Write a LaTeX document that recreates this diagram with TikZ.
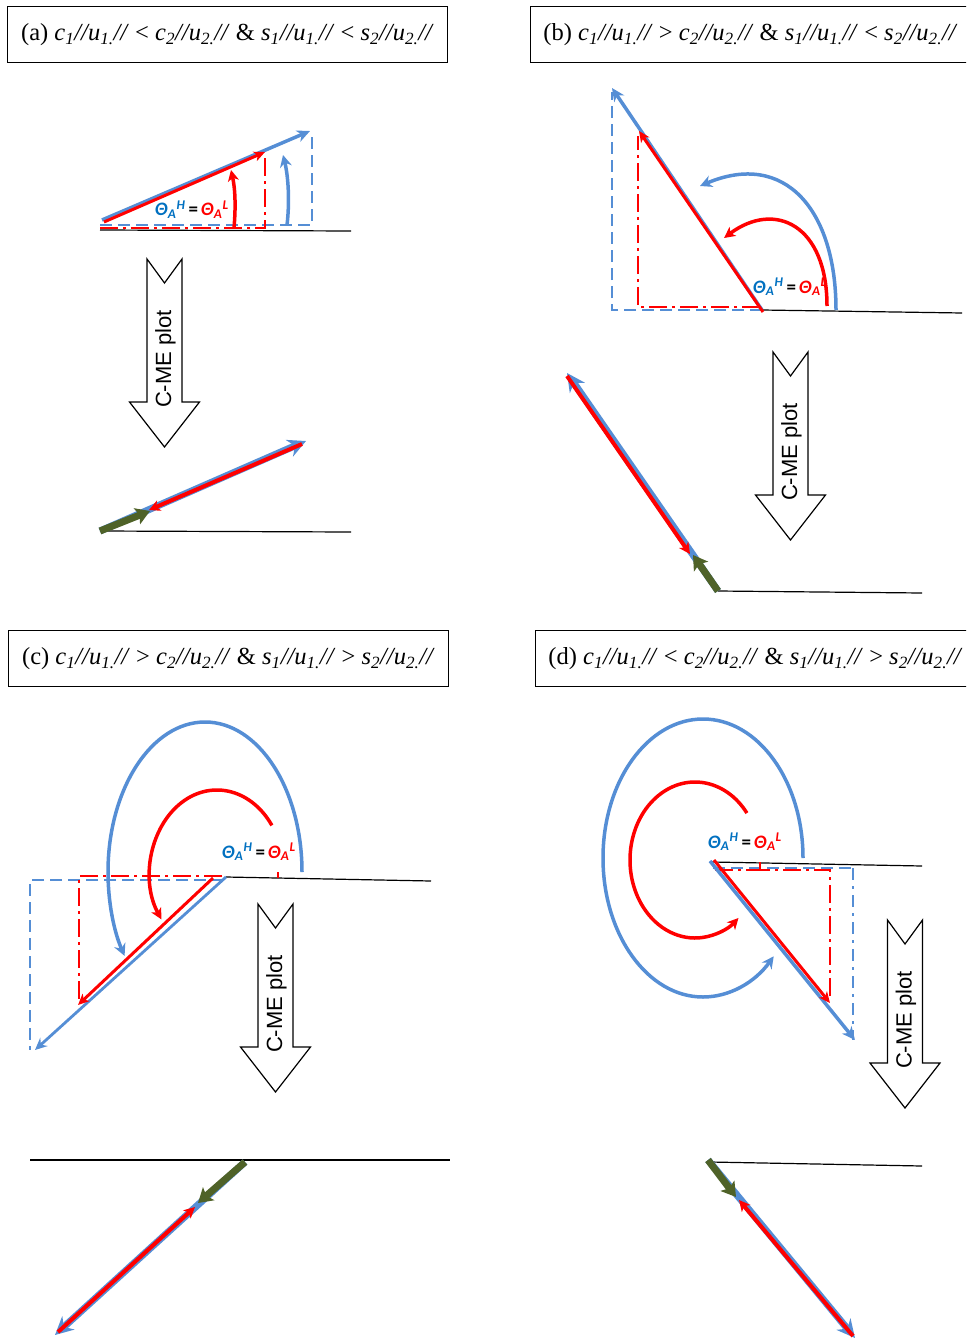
\documentclass[tikz,border=0pt]{standalone}
\usepackage{fontspec}
\setmainfont{Liberation Serif}
\newfontfamily\thetafont{Carlito}
\newfontfamily\cmefont{Liberation Sans}
\usetikzlibrary{arrows.meta}
\definecolor{cblue}{RGB}{85,142,213}
\definecolor{tblue}{RGB}{0,112,192}
\definecolor{cred}{RGB}{255,0,0}
\definecolor{cgreen}{RGB}{79,98,40}
\newcommand\sbx[1]{\textsubscript{#1}}
\newcommand\ttl[2]{\textit{c\sbx{1}//u\sbx{1.}//} #1 \textit{c\sbx{2}//u\sbx{2.}//} \& \textit{s\sbx{1}//u\sbx{1.}//} #2 \textit{s\sbx{2}//u\sbx{2.}//}}
\newcommand\thlab{{\itshape\color{tblue}Θ\sbx{A}\textsuperscript{H}}\,=\,{\itshape\color{cred}Θ\sbx{A}\textsuperscript{L}}}
\newcommand\cmearrow[3]{%
  \draw[blockarrow] (#2-17.5,#3) -- (#2,#3+24) -- (#2+17.5,#3) -- (#2+17.5,#3+143) -- (#2+35,#3+143) -- (#2,#3+188) -- (#2-35,#3+143) -- (#2-17.5,#3+143) -- cycle;
  \node[cmetext] (#1) at (#2+1,#3+100) {C-ME plot};}
\begin{document}
\begin{tikzpicture}[x=1pt,y=-1pt,
  groundline/.style={draw=black, line width=1.2pt},
  bluevec/.style={draw=cblue, line width=3.5pt, -{Stealth[length=13pt,width=12pt,inset=4pt]}},
  bluethin/.style={draw=cblue, line width=2.8pt, -{Stealth[length=12pt,width=11pt,inset=4pt]}},
  redvec/.style={draw=cred, line width=3pt, -{Stealth[length=11pt,width=10pt,inset=3pt]}},
  bluedash/.style={draw=cblue, line width=2.8pt, dash pattern=on 12pt off 6pt},
  reddashdot/.style={draw=cred, line width=2.8pt, dash pattern=on 18pt off 5pt on 3pt off 5pt},
  bluedashdot/.style={draw=cblue, line width=2.8pt, dash pattern=on 12pt off 6pt on 3pt off 6pt},
  bluearc/.style={draw=cblue, line width=3.5pt, -{Stealth[length=12pt,width=12pt,inset=4pt]}},
  redarc/.style={draw=cred, line width=3.5pt, -{Stealth[length=11pt,width=11pt,inset=3pt]}},
  bluehalo/.style={draw=cblue, line width=7pt, -{Stealth[length=18pt,width=18pt,inset=6pt]}},
  redcore/.style={draw=cred, line width=4pt, -{Stealth[length=11pt,width=11pt,inset=3pt]}},
  greenvec/.style={draw=cgreen, line width=7pt, -{Stealth[length=14pt,width=17pt,inset=3pt]}},
  titlebox/.style={draw=black, line width=1pt, minimum width=440pt, minimum height=56pt, anchor=north west, inner sep=0pt, font=\fontsize{24.5}{27}\selectfont},
  thetalab/.style={anchor=base west, inner sep=0pt, font=\thetafont\bfseries\fontsize{19}{21}\selectfont},
  cmetext/.style={rotate=90, inner sep=0pt, font=\cmefont\fontsize{22}{22}\selectfont},
  blockarrow/.style={draw=black, line width=1.2pt, fill=white, line join=miter},
]
\useasboundingbox (0,0) rectangle (966,1340);
\clip (0,0) rectangle (966,1340);

% ---------- panel (a) ----------
\node[titlebox] (ta) at (7,6) {(a) \ttl{<}{<}};
\coordinate (aO) at (102,220);
\coordinate (aB) at (310,131);
\coordinate (aR) at (265,152);
\draw[groundline] (100,230) -- (351,231);
\draw[bluedash] (100,225) -- (312,225) -- (312,133);
\draw[reddashdot] (100,228) -- (265,228) -- (265,156);
\draw[bluevec] (aO) -- (aB);
\draw[redvec] (104,222) -- (aR);
\node[thetalab] (tha) at (155,216) {\thlab};
\draw[redarc] (234,228) .. controls (236,205) and (235,188) .. (231,170);
\draw[bluearc] (287,225) .. controls (290,200) and (288,175) .. (283,155);
\cmearrow{ca}{164.5}{259}
\coordinate (aO2) at (100,531);
\draw[groundline] (100,531) -- (351,532);
\draw[bluehalo] (aO2) -- (306,441);
\draw[greenvec] (aO2) -- (150,511);
\draw[redcore] (302,444) -- (149,510);

% ---------- panel (b) ----------
\node[titlebox] (tb) at (530,6) {(b) \ttl{>}{<}};
\coordinate (bO) at (762,310);
\draw[groundline] (bO) -- (962,313);
\draw[bluedash] (bO) -- (612,310) -- (612,92);
\draw[reddashdot] (760,307) -- (638,307) -- (638,136);
\draw[bluevec] (bO) -- (612,88);
\draw[redvec] (763,312) -- (639,131);
\node[thetalab] (thb) at (753,293) {\thlab};
\draw[bluearc] (836,310) .. controls (836,210) and (785,150) .. (700,186);
\draw[redarc] (827,306) .. controls (827,225) and (775,200) .. (724,238);
\cmearrow{cb}{790.5}{352}
\coordinate (bO2) at (718,591);
\draw[groundline] (bO2) -- (922,593);
\draw[bluehalo] (bO2) -- (567,373);
\draw[greenvec] (bO2) -- (693,555);
\draw[redcore] (567,376) -- (690,554);

% ---------- panel (c) ----------
\node[titlebox] (tc) at (8,630) {(c) \ttl{>}{>}};
\coordinate (cO) at (226,877);
\draw[groundline] (cO) -- (431,881);
\draw[bluedash] (224,880) -- (30,880) -- (30,1050);
\draw[reddashdot] (222,876) -- (79,876) -- (79,1000);
\draw[cred, line width=2.5pt] (278,872) -- (278,878);
\draw[bluethin] (cO) -- (35,1050);
\draw[redvec] (213,878) -- (78,1005);
\node[thetalab] (thc) at (222,858) {\thlab};
\draw[bluearc] (302,872) arc[start angle=0,end angle=-214,x radius=97,y radius=150];
\draw[redarc] ([shift={(-35:67 and 83)}]217,873) arc[start angle=-35,end angle=-214,x radius=67,y radius=83];
\cmearrow{cc}{275.5}{904}
\coordinate (cO2) at (245,1162);
\draw[groundline] (30,1160) -- (450,1160);
\draw[bluehalo] (cO2) -- (55,1335);
\draw[greenvec] (cO2) -- (198,1203);
\draw[redcore] (58,1332) -- (195,1207);

% ---------- panel (d) ----------
\node[titlebox] (td) at (535,630) {(d) \ttl{<}{>}};
\coordinate (dO) at (710,861);
\draw[groundline] (712,862) -- (922,866);
\draw[bluedash] (713,868) -- (853,868);
\draw[bluedashdot] (853,868) -- (853,1040);
\draw[reddashdot] (715,870) -- (760,870);
\draw[reddashdot] (760,862) -- (760,870) -- (830,870) -- (830,1000);
\draw[bluevec] (dO) -- (855,1040);
\draw[redvec] (714,860) -- (830,1003);
\node[thetalab] (thd) at (708,848) {\thlab};
\draw[bluearc] (803,858) arc[start angle=0,end angle=-315,x radius=100,y radius=139];
\draw[redarc] ([shift={(-37:65 and 78)}]695,860) arc[start angle=-37,end angle=-312,x radius=65,y radius=78];
\cmearrow{cd}{905}{920}
\coordinate (dO2) at (708,1160);
\draw[groundline] (710,1162) -- (922,1166);
\draw[bluehalo] (dO2) -- (855,1338);
\draw[greenvec] (dO2) -- (736,1197);
\draw[redcore] (853,1336) -- (739,1200);
\end{tikzpicture}
\end{document}
